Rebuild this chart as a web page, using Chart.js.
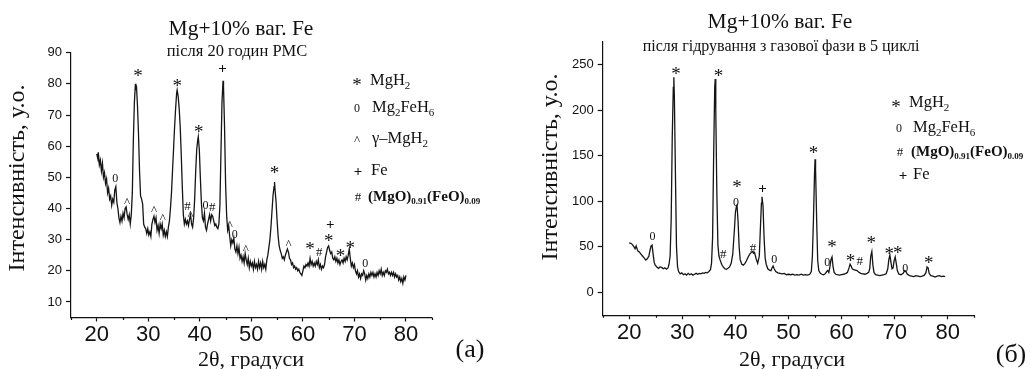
<!DOCTYPE html>
<html>
<head>
<meta charset="utf-8">
<script src="https://cdn.jsdelivr.net/npm/chart.js@4.4.1/dist/chart.umd.min.js"></script>
<style>
  body { margin: 0; background: #fff; }
  #wrap { position: relative; width: 1032px; height: 369px; overflow: hidden; background: #fff; }
  canvas { position: absolute; top: 0; }
  #chart-a { left: 0; }
  #chart-b { left: 516px; }
</style>
</head>
<body>
<div id="wrap">
  <canvas id="chart-a" width="516" height="369"></canvas>
  <canvas id="chart-b" width="516" height="369"></canvas>
</div>
<script>
const SERIF = '"Liberation Serif", "Times New Roman", serif'
const SANS = '"Liberation Sans", Arial, sans-serif'

// (а) після 20 годин РМС — кут 2θ і інтенсивність
const anglesA = [
  20.0, 20.2, 20.3, 20.5, 20.7, 20.9, 21.1, 21.3, 21.5, 21.7,
  21.9, 22.1, 22.3, 22.5, 22.7, 22.9, 23.1, 23.3, 23.5, 23.7,
  23.9, 24.1, 24.3, 24.5, 24.7, 24.9, 25.1, 25.3, 25.5, 25.7,
  25.9, 26.1, 26.3, 26.5, 26.7, 26.9, 27.1, 27.3, 27.5, 27.6,
  27.7, 27.9, 28.1, 28.3, 28.5, 28.7, 28.9, 29.1, 29.3, 29.5,
  29.7, 29.9, 30.1, 30.3, 30.5, 30.7, 30.9, 31.1, 31.3, 31.5,
  31.7, 31.9, 32.1, 32.3, 32.5, 32.7, 32.9, 33.1, 33.3, 33.5,
  33.7, 33.9, 34.1, 34.3, 34.5, 34.7, 34.9, 35.1, 35.3, 35.5,
  35.6, 35.8, 36.0, 36.2, 36.4, 36.6, 36.8, 37.0, 37.2, 37.4,
  37.6, 37.8, 38.0, 38.2, 38.4, 38.6, 38.8, 39.0, 39.2, 39.4,
  39.6, 39.7, 39.9, 40.1, 40.3, 40.5, 40.7, 40.9, 41.1, 41.3,
  41.5, 41.7, 41.9, 42.1, 42.3, 42.5, 42.7, 42.9, 43.1, 43.3,
  43.5, 43.7, 43.9, 44.1, 44.3, 44.5, 44.6, 44.8, 45.0, 45.2,
  45.4, 45.6, 45.8, 46.0, 46.2, 46.4, 46.6, 46.8, 47.0, 47.2,
  47.4, 47.6, 47.8, 48.0, 48.2, 48.4, 48.6, 48.8, 49.0, 49.2,
  49.4, 49.6, 49.8, 50.0, 50.2, 50.4, 50.6, 50.8, 51.0, 51.2,
  51.4, 51.6, 51.8, 52.0, 52.2, 52.4, 52.6, 52.8, 53.0, 53.2,
  53.4, 53.6, 53.8, 54.0, 54.2, 54.4, 54.5, 54.6, 54.8, 55.0,
  55.2, 55.4, 55.6, 55.8, 56.0, 56.2, 56.4, 56.6, 56.8, 57.0,
  57.2, 57.4, 57.6, 57.8, 58.0, 58.2, 58.4, 58.6, 58.8, 59.0,
  59.2, 59.4, 59.6, 59.8, 60.0, 60.2, 60.4, 60.6, 60.8, 61.0,
  61.2, 61.4, 61.6, 61.8, 62.0, 62.2, 62.4, 62.6, 62.8, 63.0,
  63.2, 63.4, 63.6, 63.8, 64.0, 64.2, 64.4, 64.6, 64.8, 65.0,
  65.2, 65.4, 65.6, 65.8, 66.0, 66.2, 66.4, 66.6, 66.8, 67.0,
  67.2, 67.4, 67.6, 67.8, 68.0, 68.2, 68.4, 68.6, 68.8, 69.0,
  69.2, 69.4, 69.6, 69.8, 70.0, 70.2, 70.4, 70.6, 70.8, 71.0,
  71.2, 71.4, 71.6, 71.8, 72.0, 72.2, 72.4, 72.6, 72.8, 73.0,
  73.2, 73.4, 73.6, 73.8, 74.0, 74.2, 74.4, 74.6, 74.8, 75.0,
  75.2, 75.4, 75.6, 75.8, 76.0, 76.2, 76.4, 76.6, 76.8, 77.0,
  77.2, 77.4, 77.6, 77.8, 78.0, 78.2, 78.4, 78.6, 78.8, 79.0,
  79.2, 79.4, 79.6, 79.8, 80.0
]
const countsA = [
  57.5, 56, 58, 54, 55.5, 52, 54.5, 50, 51.5, 48,
  49.5, 45, 46.5, 43, 44, 41, 43, 42, 46, 47,
  42, 40, 37, 35.5, 37.5, 36, 38.5, 37, 40, 40.5,
  38, 36.5, 38, 35, 38, 45, 62, 74, 80, 78,
  79.5, 73, 64, 52, 44, 43, 41.5, 35, 34, 33.5,
  32, 33.5, 31.5, 32.5, 31, 35, 36.5, 37.5, 35.5, 37,
  33, 34.5, 32, 35, 33.5, 35, 31.5, 33, 31, 32.5,
  31, 34, 36, 40, 45, 52, 59, 66, 72, 77,
  78, 76, 72, 66, 57, 47, 38, 35, 36.5, 35,
  36, 34.5, 36.5, 38, 35, 34, 37, 43, 52, 59,
  62, 63, 59, 50, 42, 37, 36, 38.5, 34, 33,
  35, 36.5, 38, 36, 38, 37.5, 36, 34.5, 35, 34,
  33.5, 35, 41, 58, 74, 81, 79, 66, 48, 38,
  33, 34.5, 31, 28, 30, 29, 30.5, 27, 26, 28,
  25.5, 27.5, 24, 25, 23, 24.5, 22.5, 25.5, 23.5, 22,
  24, 21, 23, 21.5, 22.5, 20.5, 23, 21, 22, 20.5,
  23, 21, 22.5, 20.5, 23, 21, 22, 20.5, 23.5, 25,
  27.5, 30, 34, 39, 44, 47, 48.5, 46, 42, 36,
  31, 28, 26.5, 25.5, 24, 24.5, 23.5, 25, 26, 27,
  26, 24, 23.5, 22, 22.5, 21, 21.5, 20.5, 21, 20,
  20.5, 19.5, 19, 18.5, 20, 21.5, 21, 22, 21.5, 22.5,
  21.5, 24, 22, 23, 21.5, 22.5, 21.5, 23, 22, 23.5,
  21, 22, 20.5, 21.5, 21, 22, 24.5, 26, 27.5, 28,
  26.5, 25.5, 26, 24, 23.5, 24.5, 23, 24, 22.5, 23.5,
  22, 23, 23.5, 22.5, 24, 23, 24.5, 23.5, 25, 27,
  24, 21.5, 22.5, 21, 22, 20, 19, 20, 18, 19,
  17.5, 19, 18.5, 20, 19, 17, 18.5, 17.5, 19, 18,
  19.5, 18.5, 19.5, 18, 19, 18, 19.5, 18.5, 20, 19,
  20.5, 18.5, 19.5, 18.5, 20, 19.5, 20.5, 19, 19.5, 18.5,
  19.5, 18.5, 19.5, 18, 19, 18, 18.5, 17, 18, 16.5,
  17.5, 16, 18, 17, 18.5
]
// позначки фаз над піками (кут, висота, символ)
const peakAnglesA = [23.6, 25.9, 28.0, 31.1, 32.8, 35.6, 37.6, 38.2, 39.8, 41.1, 42.4, 44.4,
  45.8, 46.8, 48.9, 54.5, 57.2, 61.4, 63.2, 65.0, 65.3, 67.3, 69.2, 72.1]
const peakLevelsA = [49.7, 42.5, 83.6, 39.8, 37.4, 80.5, 40.8, 38.1, 65.6, 41.2, 40.4, 85,
  35, 31.8, 27.2, 52.4, 28.8, 28, 26.1, 30.6, 35, 25.9, 28.5, 22.4]
const peakMarksA = ['0', '^', '*', '^', '^', '*', '#', '^', '*', '0', '#', '+',
  '^', '0', '^', '*', '^', '*', '#', '*', '+', '*', '*', '0']

// (б) після гідрування з газової фази в 5 циклі
const anglesB = [
  20.0, 20.3, 20.6, 20.9, 21.1, 21.3, 21.5, 21.7, 21.9, 22.2,
  22.5, 22.8, 23.1, 23.4, 23.7, 23.9, 24.1, 24.3, 24.5, 24.7,
  24.9, 25.2, 25.5, 25.8, 26.1, 26.4, 26.7, 27.0, 27.3, 27.5,
  27.7, 27.9, 28.1, 28.3, 28.4, 28.5, 28.7, 28.9, 29.1, 29.3,
  29.6, 29.9, 30.2, 30.5, 30.8, 31.1, 31.4, 31.7, 32.0, 32.3,
  32.6, 32.9, 33.2, 33.5, 33.8, 34.1, 34.4, 34.7, 35.0, 35.3,
  35.5, 35.7, 35.9, 36.1, 36.2, 36.3, 36.5, 36.7, 36.9, 37.1,
  37.4, 37.7, 38.0, 38.3, 38.6, 38.9, 39.2, 39.5, 39.8, 40.0,
  40.2, 40.3, 40.5, 40.7, 40.9, 41.2, 41.5, 41.8, 42.1, 42.4,
  42.7, 43.0, 43.2, 43.4, 43.6, 43.9, 44.2, 44.5, 44.7, 44.9,
  45.0, 45.2, 45.4, 45.6, 45.8, 46.1, 46.4, 46.7, 46.9, 47.1,
  47.3, 47.6, 48.0, 48.4, 48.8, 49.2, 49.6, 50.0, 50.4, 50.8,
  51.2, 51.6, 52.0, 52.4, 52.8, 53.2, 53.6, 54.0, 54.3, 54.5,
  54.7, 54.9, 55.0, 55.1, 55.3, 55.5, 55.7, 56.0, 56.3, 56.6,
  56.9, 57.2, 57.4, 57.6, 57.8, 58.0, 58.2, 58.4, 58.6, 58.9,
  59.2, 59.6, 60.0, 60.4, 60.8, 61.1, 61.4, 61.6, 61.8, 62.0,
  62.3, 62.6, 62.9, 63.2, 63.6, 64.0, 64.4, 64.8, 65.1, 65.3,
  65.5, 65.7, 65.9, 66.1, 66.4, 66.8, 67.2, 67.6, 68.0, 68.4,
  68.7, 68.9, 69.1, 69.3, 69.5, 69.7, 69.9, 70.1, 70.3, 70.5,
  70.8, 71.2, 71.6, 71.9, 72.1, 72.4, 72.8, 73.2, 73.6, 74.0,
  74.4, 74.8, 75.2, 75.6, 75.9, 76.1, 76.3, 76.5, 76.8, 77.2,
  77.6, 78.0, 78.4, 78.8, 79.2, 79.5
]
const countsB = [
  54.5, 54, 52.5, 50, 48, 51, 47.5, 45, 44.5, 42,
  40, 38, 35.5, 37, 40, 46, 51, 52, 42, 33,
  30, 28, 26.5, 28, 27.5, 26, 27, 25.5, 27, 31,
  40, 80, 170, 225, 236, 215, 130, 50, 28, 23,
  20.5, 21.5, 19.5, 20.5, 19, 21, 19.5, 20.5, 19, 20,
  21, 20, 21, 20.5, 21.5, 21, 22, 21.5, 23, 25,
  32, 60, 150, 225, 234, 200, 110, 52, 40, 36,
  31, 28, 26, 25.5, 26.5, 28, 32, 42, 68, 88,
  95, 96, 78, 50, 36, 31, 30, 32, 35, 39,
  42, 44, 45, 43, 44, 37, 32, 40, 70, 98,
  105, 95, 60, 38, 31, 26, 24.5, 24, 27, 29,
  26, 23, 21.5, 21, 20.5, 21, 19.5, 20, 19.5, 20,
  19, 19.5, 19, 20, 19, 19.5, 19, 20, 23, 40,
  80, 130, 146, 135, 80, 35, 24, 21, 20, 19.5,
  20.5, 23, 24, 22, 28, 36, 39, 28, 22, 20,
  19.5, 19, 19.5, 20, 21, 22, 27, 31, 29, 26,
  25, 24.5, 24, 22.5, 21, 20.5, 20, 21, 22, 26,
  40, 45, 30, 22, 19.5, 19, 18.5, 19, 19.5, 20.5,
  26, 36, 41, 33, 26, 27, 35, 39, 32, 24,
  20, 19.5, 21, 24, 23, 20, 18.5, 18, 17.5, 18.5,
  18, 17.5, 18, 19, 22, 28, 27, 21, 18.5, 18,
  17, 18, 18.5, 17.5, 18, 17.5
]
const peakAnglesB = [24.4, 28.8, 36.8, 37.7, 40.3, 40.1, 43.3, 45.1, 47.3, 54.7,
  57.3, 58.2, 61.7, 63.4, 65.6, 69.0, 70.6, 72.0, 76.4]
const peakLevelsB = [62.4, 243.9, 241, 42, 119, 99, 48.6, 114, 36.9, 157,
  33, 54, 38.3, 34.7, 58.4, 46, 47.5, 27.4, 36.5]
const peakMarksB = ['0', '*', '*', '#', '*', '0', '#', '+', '0', '*',
  '0', '*', '*', '#', '*', '*', '*', '0', '*']

// поділки осей
const ticksX = [20, 30, 40, 50, 60, 70, 80]
const minorTicksX = [15, 25, 35, 45, 55, 65, 75, 85]
const ticksYA = [10, 20, 30, 40, 50, 60, 70, 80, 90]
const ticksYB = [0, 50, 100, 150, 200, 250]

const markFonts = {
  '*': '19px ' + SERIF,
  '0': '12px ' + SERIF,
  '^': '13px ' + SERIF,
  '#': '13px ' + SERIF,
  '+': 'bold 15px ' + SERIF
}

// малює символ так, щоб центр гліфа був точно в (x, y)
function drawMark (ctx, mark, x, y) {
  ctx.font = markFonts[mark]
  ctx.textAlign = 'center'
  ctx.textBaseline = 'alphabetic'
  const m = ctx.measureText(mark)
  ctx.fillText(mark, x, y + (m.actualBoundingBoxAscent - m.actualBoundingBoxDescent) / 2)
}

// текст з нижніми індексами: [текст, індекс?]
function drawRich (ctx, parts, x, y, bold) {
  const w = bold ? 'bold ' : ''
  const main = bold ? 15 : 16.5
  const sub = bold ? 9 : 11
  ctx.textAlign = 'left'
  ctx.textBaseline = 'middle'
  let cx = x
  for (const [text, isSub] of parts) {
    ctx.font = w + (isSub ? sub : main) + 'px ' + SERIF
    ctx.fillText(text, cx, y + (isSub ? 5 : 0))
    cx += ctx.measureText(text).width
  }
}

const paperText = {
  id: 'paperText',
  afterDraw (chart, args, opts) {
    const { ctx, chartArea, scales } = chart
    const { x, y } = scales
    ctx.save()
    ctx.fillStyle = '#111'
    ctx.strokeStyle = '#111'

    // дрібні поділки осі X
    ctx.lineWidth = 1.2
    ctx.beginPath()
    for (const v of minorTicksX) {
      const px = Math.round(x.getPixelForValue(v)) + 0.5
      ctx.moveTo(px, chartArea.bottom)
      ctx.lineTo(px, chartArea.bottom + 2.5)
    }
    ctx.stroke()

    // позначки фаз
    opts.peaks.angles.forEach((a, i) => {
      drawMark(ctx, opts.peaks.marks[i], x.getPixelForValue(a), y.getPixelForValue(opts.peaks.levels[i]))
    })

    ctx.textAlign = 'center'
    ctx.textBaseline = 'middle'
    ctx.font = '21.5px ' + SERIF
    ctx.fillText('Mg+10% ваг. Fe', opts.title.x, opts.title.y)
    ctx.font = opts.subtitle.size + 'px ' + SERIF
    ctx.fillText(opts.subtitle.text, opts.subtitle.x, opts.subtitle.y)

    ctx.font = '22px ' + SERIF
    ctx.fillText('2θ, градуси', opts.xTitle.x, opts.xTitle.y)
    ctx.font = '26px ' + SERIF
    ctx.fillText(opts.label.text, opts.label.x, opts.label.y)

    ctx.save()
    ctx.translate(opts.yTitle.x, opts.yTitle.y)
    ctx.rotate(-Math.PI / 2)
    ctx.font = '24px ' + SERIF
    ctx.fillText('Інтенсивність, у.о.', 0, 0)
    ctx.restore()

    // легенда
    for (const row of opts.legend) {
      drawMark(ctx, row.mark, row.markX, row.y)
      drawRich(ctx, row.parts, row.textX, row.y, row.bold)
    }
    ctx.restore()
  }
}

function buildChart (canvasId, panel) {
  const points = panel.angles.map((a, i) => ({ x: a, y: panel.counts[i] }))
  const axisBorder = { display: true, color: '#111', width: 1.2 }
  try {
    return new Chart(document.getElementById(canvasId), {
      type: 'line',
      data: {
        datasets: [{
          data: points,
          borderColor: '#151515',
          borderWidth: 1.3,
          pointRadius: 0,
          tension: 0
        }]
      },
      options: {
        responsive: false,
        animation: false,
        devicePixelRatio: 1,
        layout: { padding: panel.padding },
        plugins: {
          legend: { display: false },
          tooltip: { enabled: false },
          paperText: panel.text
        },
        scales: {
          x: {
            type: 'linear',
            min: 15,
            max: 85,
            afterFit: (scale) => { scale.height = panel.xHeight },
            afterBuildTicks: (scale) => { scale.ticks = ticksX.map(v => ({ value: v })) },
            border: axisBorder,
            grid: { drawOnChartArea: false, tickLength: 4, tickColor: '#111', tickWidth: 1.2 },
            ticks: {
              maxRotation: 0,
              autoSkip: false,
              padding: 0,
              color: '#111',
              font: { family: SANS, size: 22 }
            }
          },
          y: {
            type: 'linear',
            min: panel.yMin,
            max: panel.yMax,
            afterFit: (scale) => { scale.width = panel.yWidth },
            afterBuildTicks: (scale) => { scale.ticks = panel.yTicks.map(v => ({ value: v })) },
            border: axisBorder,
            grid: { drawOnChartArea: false, tickLength: 5, tickColor: '#111', tickWidth: 1.2 },
            ticks: {
              autoSkip: false,
              padding: 4,
              color: '#111',
              font: { family: SANS, size: 13 }
            }
          }
        }
      },
      plugins: [paperText]
    })
  } catch (error) {
    console.error(`Помилка побудови графіка ${canvasId}: ${error}`)
  }
}

buildChart('chart-a', {
  angles: anglesA,
  counts: countsA,
  yMin: 5,
  yMax: 90,
  yTicks: ticksYA,
  yWidth: 71,
  xHeight: 51.5,
  padding: { left: 0, top: 52.7, right: 84.3, bottom: 0 },
  text: {
    peaks: { angles: peakAnglesA, levels: peakLevelsA, marks: peakMarksA },
    title: { x: 241, y: 29 },
    subtitle: { text: 'після 20 годин РМС', x: 237, y: 52, size: 16.5 },
    xTitle: { x: 251, y: 360 },
    yTitle: { x: 18, y: 178 },
    label: { text: '(a)', x: 470, y: 350 },
    legend: [
      { mark: '*', markX: 357, textX: 370, y: 81, parts: [['MgH'], ['2', true]] },
      { mark: '0', markX: 357, textX: 372, y: 108, parts: [['Mg'], ['2', true], ['FeH'], ['6', true]] },
      { mark: '^', markX: 357, textX: 372, y: 139, parts: [['γ–MgH'], ['2', true]] },
      { mark: '+', markX: 358, textX: 371, y: 171, parts: [['Fe']] },
      { mark: '#', markX: 358, textX: 368, y: 197, bold: true, parts: [['(MgO)'], ['0.91', true], ['(FeO)'], ['0.09', true]] }
    ]
  }
})

buildChart('chart-b', {
  angles: anglesB,
  counts: countsB,
  yMin: -25,
  yMax: 275,
  yTicks: ticksYB,
  yWidth: 86.7,
  xHeight: 53.7,
  padding: { left: 0, top: 41.7, right: 57.7, bottom: 0 },
  text: {
    peaks: { angles: peakAnglesB, levels: peakLevelsB, marks: peakMarksB },
    title: { x: 264, y: 22 },
    subtitle: { text: 'після гідрування з газової фази в 5 циклі', x: 265, y: 47, size: 16 },
    xTitle: { x: 276, y: 360 },
    yTitle: { x: 35, y: 167 },
    label: { text: '(б)', x: 495, y: 355 },
    legend: [
      { mark: '*', markX: 380, textX: 393, y: 103, parts: [['MgH'], ['2', true]] },
      { mark: '0', markX: 383, textX: 397, y: 128, parts: [['Mg'], ['2', true], ['FeH'], ['6', true]] },
      { mark: '#', markX: 384, textX: 395, y: 152, bold: true, parts: [['(MgO)'], ['0.91', true], ['(FeO)'], ['0.09', true]] },
      { mark: '+', markX: 387, textX: 397, y: 175, parts: [['Fe']] }
    ]
  }
})
</script>
</body>
</html>
